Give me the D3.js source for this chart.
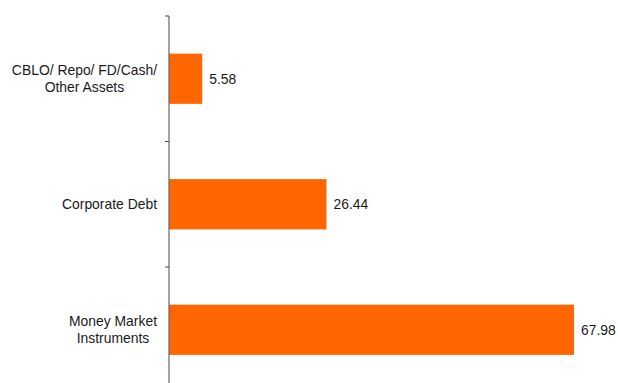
<!DOCTYPE html>
<html>
<head>
<meta charset="utf-8">
<script src="https://d3js.org/d3.v7.min.js"></script>
<style>
  body { margin: 0; background: #fff; }
  text { font-family: "Liberation Sans", Arial, sans-serif; font-size: 13.9px; fill: #1a1a1a; }
</style>
</head>
<body>
<div id="chart"></div>
<script>
// portfolio split, in percent
var categories = [
  ["CBLO/ Repo/ FD/Cash/", "Other Assets"],
  ["Corporate Debt"],
  ["Money Market", "Instruments"]
]
var values = [5.58, 26.44, 67.98]

var width = 618
var height = 383
var x0 = 169

var svg = d3.select("#chart")
  .append("svg")
    .attr("width", width)
    .attr("height", height)

var x = d3.scaleLinear()
  .domain([0, 67.98])
  .range([x0, 574])

var y = d3.scaleBand()
  .domain(d3.range(values.length))
  .range([16, 392.5])
  .paddingInner(0.6)
  .paddingOuter(0.3)

// bars
svg.selectAll("rect.bar")
  .data(values)
  .enter()
  .append("rect")
    .attr("class", "bar")
    .attr("x", x(0))
    .attr("y", function(d, i){ return y(i) })
    .attr("width", function(d){ return x(d) - x(0) })
    .attr("height", y.bandwidth())
    .style("fill", "#ff6600")

// value labels
svg.selectAll("text.val")
  .data(values)
  .enter()
  .append("text")
    .attr("class", "val")
    .attr("x", function(d){ return x(d) + 7 })
    .attr("y", function(d, i){ return y(i) + y.bandwidth() / 2 })
    .attr("dy", "0.35em")
    .text(function(d){ return d.toFixed(2) })

// axis line and ticks at band boundaries
var step = y.step()
var tickYs = [16, 16 + step, 16 + 2 * step]
svg.append("line")
  .attr("x1", x0).attr("x2", x0)
  .attr("y1", 16).attr("y2", height)
  .attr("stroke", "#666")
  .attr("stroke-width", 1.2)

svg.selectAll("line.tick")
  .data(tickYs)
  .enter()
  .append("line")
    .attr("class", "tick")
    .attr("x1", x0 - 4).attr("x2", x0)
    .attr("y1", function(d){ return d }).attr("y2", function(d){ return d })
    .attr("stroke", "#444")

// category labels, lines centered on each other, block right-aligned
var rightEdge = 157
var lineH = 17
categories.forEach(function(lines, i){
  var g = svg.append("g")
  var cy = y(i) + y.bandwidth() / 2
  var texts = lines.map(function(s, j){
    return g.append("text")
      .attr("y", cy + (j - (lines.length - 1) / 2) * lineH)
      .attr("dy", "0.35em")
      .attr("text-anchor", "middle")
      .text(s)
  })
  var maxW = d3.max(texts, function(t){ return t.node().getComputedTextLength() })
  texts.forEach(function(t){ t.attr("x", rightEdge - maxW / 2) })
})
</script>
</body>
</html>
